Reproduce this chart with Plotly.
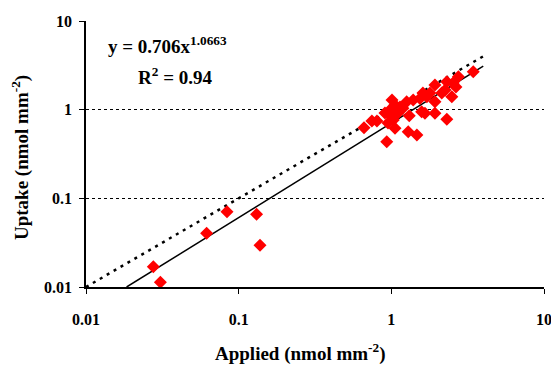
import plotly.graph_objects as go

# Data (applied vs uptake, nmol mm^-2)
applied = [0.0276, 0.0307, 0.0617, 0.0839, 0.131, 0.138,
           0.662, 0.746, 0.805, 0.933, 0.908, 0.951, 0.979, 1.005, 1.057, 1.057,
           1.106, 1.01, 1.14, 1.26, 1.29, 1.31, 1.39, 1.47, 1.54, 1.58, 1.61,
           1.71, 1.79, 1.93, 1.93, 1.66, 1.93, 2.14, 2.25, 2.31, 2.31, 2.49,
           2.54, 2.75, 3.44, 1.19, 1.03, 2.65]
uptake = [0.0169, 0.0113, 0.0404, 0.0706, 0.066, 0.0295,
          0.626, 0.745, 0.745, 0.435, 0.917, 0.707, 0.991, 0.834, 1.13, 0.616,
          0.917, 1.285, 1.072, 1.23, 0.565, 0.855, 1.285, 0.518, 1.34, 0.949, 1.54,
          1.40, 1.54, 1.90, 1.23, 0.91, 0.91, 1.54, 1.67, 2.07, 0.778, 1.40,
          2.0, 2.35, 2.68, 1.04, 0.764, 1.80]

fit_a = 0.706
fit_b = 1.0663
fit_x = [0.01845, 4.0]
one_to_one = [0.01, 4.0]

tick_vals = [0.01, 0.1, 1, 10]
tick_text = ["<b>0.01</b>", "<b>0.1</b>", "<b>1</b>", "<b>10</b>"]

FONT = "Liberation Serif, Times New Roman, serif"

fig = go.Figure()
fig.add_trace(go.Scatter(x=one_to_one, y=one_to_one, mode="lines",
                         line=dict(color="black", width=2.5, dash="3px,5px"),
                         hoverinfo="skip", showlegend=False))
fig.add_trace(go.Scatter(x=fit_x, y=[fit_a * v ** fit_b for v in fit_x], mode="lines",
                         line=dict(color="black", width=1.5),
                         hoverinfo="skip", showlegend=False))
fig.add_trace(go.Scatter(x=applied, y=uptake, mode="markers",
                         marker=dict(symbol="diamond", size=10, color="#FF0000",
                                     line=dict(width=0)),
                         showlegend=False, cliponaxis=False))

L, T, R, B = 86, 21, 544, 287
W, H = R - L, B - T

fig.update_layout(
    width=551, height=365,
    margin=dict(l=L, r=551 - R, t=T, b=365 - B, autoexpand=False),
    paper_bgcolor="white", plot_bgcolor="white",
    font=dict(family=FONT, size=16, color="black"),
    xaxis=dict(type="log", range=[-2, 1], tickvals=tick_vals, ticktext=tick_text,
               showgrid=False, showline=True, linecolor="black", linewidth=1.5,
               ticks="outside", ticklen=5, tickcolor="black", tickwidth=1,
               ticklabelstandoff=12, ticklabeloverflow="allow", zeroline=False,
               automargin=False,
               tickfont=dict(family=FONT, size=16, color="black")),
    yaxis=dict(type="log", range=[-2, 1], tickvals=tick_vals, ticktext=tick_text,
               showgrid=True, gridcolor="black", griddash="dot", gridwidth=1,
               showline=True, linecolor="black", linewidth=1.5,
               ticks="outside", ticklen=5, tickcolor="black", tickwidth=1,
               ticklabelstandoff=4, ticklabeloverflow="allow", zeroline=False,
               automargin=False,
               tickfont=dict(family=FONT, size=16, color="black")),
    annotations=[
        dict(text="<b>y = 0.706x<sup>1.0663</sup></b>", xref="paper", yref="paper",
             x=(106 - L) / W, y=(B - 45) / H, xanchor="left", yanchor="middle",
             showarrow=False, font=dict(family=FONT, size=19, color="black")),
        dict(text="<b>R<sup>2</sup> = 0.94</b>", xref="paper", yref="paper",
             x=(136 - L) / W, y=(B - 76) / H, xanchor="left", yanchor="middle",
             showarrow=False, font=dict(family=FONT, size=19, color="black")),
        dict(text="<b>Applied (nmol mm<sup>-2</sup>)</b>", xref="paper", yref="paper",
             x=(300 - L) / W, y=(B - 352) / H, xanchor="center", yanchor="middle",
             showarrow=False, font=dict(family=FONT, size=19, color="black")),
        dict(text="<b>Uptake (nmol mm<sup>-2</sup>)</b>", xref="paper", yref="paper",
             x=(20 - L) / W, y=(B - 158) / H, xanchor="center", yanchor="middle",
             textangle=-90,
             showarrow=False, font=dict(family=FONT, size=19, color="black")),
    ],
)

fig.write_html("out.html", config={"displayModeBar": False},
               post_script="document.body.style.margin='0';")
